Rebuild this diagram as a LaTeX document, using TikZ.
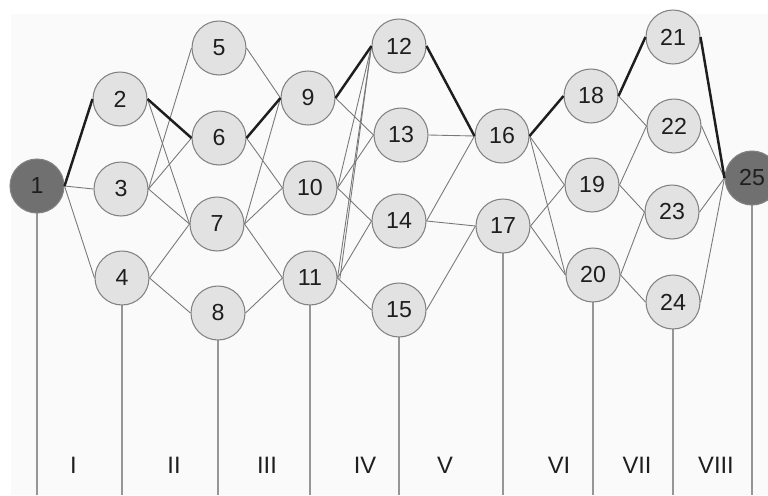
\documentclass[tikz,border=0pt]{standalone}
\usepackage{fontspec}
\setmainfont{Liberation Sans}
\definecolor{nodefill}{RGB}{226,226,226}
\definecolor{darkfill}{RGB}{112,112,112}
\definecolor{nodeborder}{RGB}{130,130,130}
\definecolor{thinedge}{RGB}{120,120,120}
\definecolor{thickedge}{RGB}{30,30,30}
\definecolor{vline}{RGB}{150,150,150}
\definecolor{txt}{RGB}{30,30,30}
\definecolor{bgfill}{RGB}{250,250,250}
\begin{document}
\begin{tikzpicture}[x=0.02cm,y=-0.02cm,
  vert/.style={circle,draw=nodeborder,line width=0.6pt,fill=nodefill,minimum size=1.08cm,inner sep=0pt,text=txt,font=\fontsize{13.2}{15}\selectfont},
  dark/.style={vert,fill=darkfill},
  thin/.style={draw=thinedge,line width=0.5pt},
  thick/.style={draw=thickedge,line width=1.4pt},
  sep/.style={draw=vline,line width=0.6pt},
  stage/.style={text=txt,font=\fontsize{13.5}{16}\selectfont,inner sep=0pt}]
\useasboundingbox (0,0) rectangle (768,495);
\fill[bgfill] (11,14) rectangle (768,495);
% bottom anchor coordinates
\foreach \n/\x in {b1/37,b4/122,b8/218,b11/310,b15/399,b17/503,b20/593,b24/673,b25/752}
  \coordinate (\n) at (\x,495);
% vertical separators (drawn first, behind nodes)
\draw[sep] (37,186) -- (b1);
\draw[sep] (122,278) -- (b4);
\draw[sep] (218,313) -- (b8);
\draw[sep] (310,278) -- (b11);
\draw[sep] (399,310) -- (b15);
\draw[sep] (503,226) -- (b17);
\draw[sep] (593,275) -- (b20);
\draw[sep] (673,302) -- (b24);
\draw[sep] (752,178) -- (b25);
% nodes
\node[dark] (n1) at (37,186) {1};
\node[vert] (n2) at (120,99) {2};
\node[vert] (n3) at (121,189) {3};
\node[vert] (n4) at (122,278) {4};
\node[vert] (n5) at (219,48) {5};
\node[vert] (n6) at (219,138) {6};
\node[vert] (n7) at (217,224) {7};
\node[vert] (n8) at (218,313) {8};
\node[vert] (n9) at (308,98) {9};
\node[vert] (n10) at (310,188) {10};
\node[vert] (n11) at (310,278) {11};
\node[vert] (n12) at (399,46) {12};
\node[vert] (n13) at (401,135) {13};
\node[vert] (n14) at (399,221) {14};
\node[vert] (n15) at (399,310) {15};
\node[vert] (n16) at (502,136) {16};
\node[vert] (n17) at (503,226) {17};
\node[vert] (n18) at (591,96) {18};
\node[vert] (n19) at (592,185) {19};
\node[vert] (n20) at (593,275) {20};
\node[vert] (n21) at (673,37) {21};
\node[vert] (n22) at (674,126) {22};
\node[vert] (n23) at (672,212) {23};
\node[vert] (n24) at (673,302) {24};
\node[dark] (n25) at (752,178) {25};
% thin edges
\foreach \a/\b in {1/3,1/4,2/7,3/5,3/6,3/7,4/7,4/8,5/9,6/10,7/9,7/10,7/11,8/11,
  9/13,10/12,10/13,10/14,11/12,11/14,11/15,13/16,14/16,14/17,15/17,
  16/19,16/20,17/19,17/20,18/22,19/22,19/23,20/23,20/24,22/25,23/25,24/25}
  \draw[thin] (n\a.east) -- (n\b.west);
\draw[thin] ([xshift=1.3pt,yshift=-0.8pt]n11.east) -- (n12.west);
% thick path edges
\foreach \a/\b in {1/2,2/6,6/9,9/12,12/16,16/18,18/21,21/25}
  \draw[thick] (n\a.east) -- (n\b.west);
% stage labels
\node[stage] (s1) at (73.5,465) {I};
\node[stage] (s2) at (174,465) {II};
\node[stage] (s3) at (267,465) {III};
\node[stage] (s4) at (365,465) {IV};
\node[stage] (s5) at (445,465) {V};
\node[stage] (s6) at (559,465) {VI};
\node[stage] (s7) at (637,465) {VII};
\node[stage] (s8) at (716,465) {VIII};
\end{tikzpicture}
\end{document}
